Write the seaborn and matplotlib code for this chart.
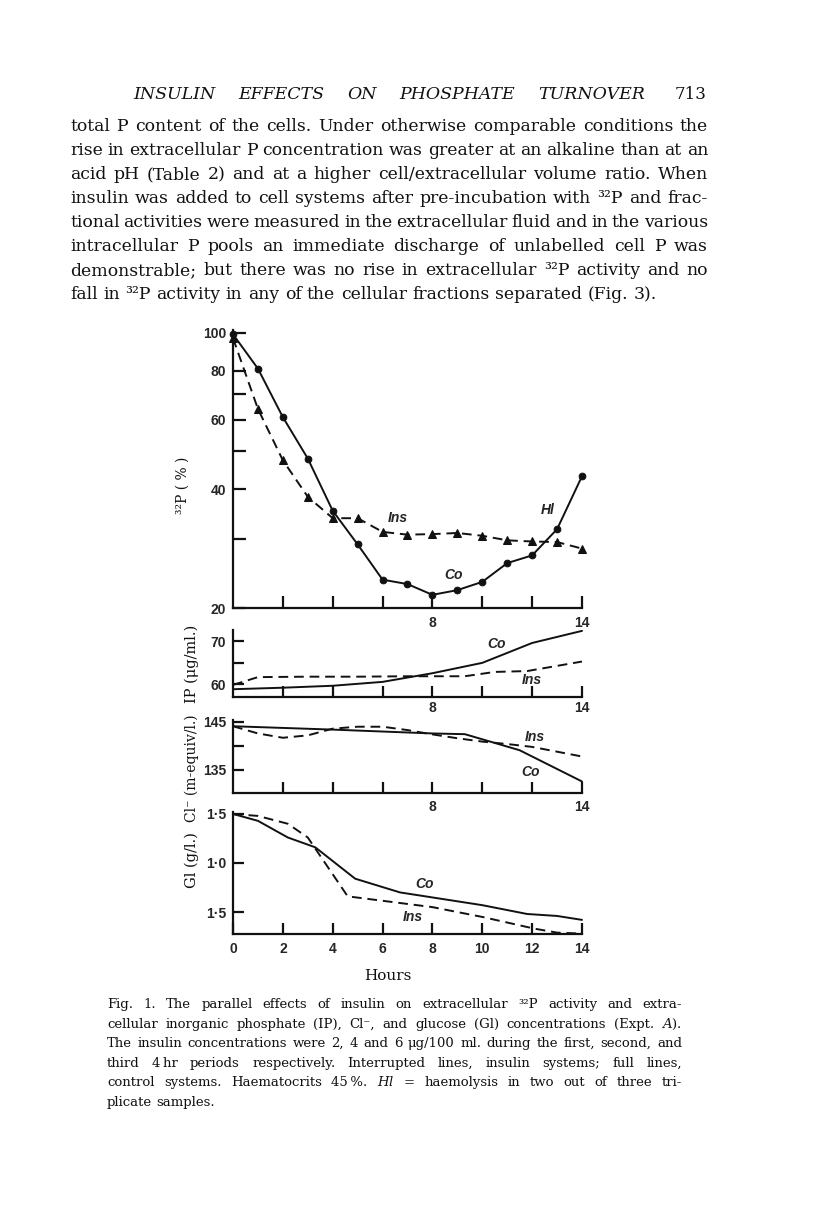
import matplotlib
matplotlib.use("Agg")
import matplotlib.pyplot as plt
import pandas as pd
import seaborn as sns

# ---- data ----
# 32P activity (%), log scale, every hour
p32_hours = [0, 1, 2, 3, 4, 5, 6, 7, 8, 9, 10, 11, 12, 13, 14]
p32_co = [99, 81, 61, 47.9, 35.3, 29.0, 23.6, 23.0, 21.6, 22.2, 23.3, 26.0, 27.2, 31.7, 43.2]
p32_ins = [96.8, 64.0, 47.4, 38.3, 33.8, 33.8, 31.2, 30.7, 30.8, 31.0, 30.5, 29.7, 29.5, 29.4, 28.3]

# inorganic phosphate (ug/ml)
ip_co_hours = [0, 2, 4, 6, 8, 10, 12, 14]
ip_co = [58.9, 59.25, 59.7, 60.6, 62.6, 65.0, 69.6, 72.4]
ip_ins_hours = [0, 1, 3, 5, 7, 9.3, 10.5, 11.8, 14]
ip_ins = [59.9, 61.7, 61.8, 61.8, 61.9, 61.9, 62.9, 63.1, 65.3]

# chloride (m-equiv/l)
cl_co_hours = [0, 4, 8, 9.3, 11.5, 14]
cl_co = [144.1, 143.4, 142.6, 142.45, 139.1, 132.6]
cl_ins_hours = [0, 1, 2, 3, 4, 5, 6, 7, 8, 9, 10, 11, 12, 13, 14]
cl_ins = [144.1, 142.6, 141.7, 142.2, 143.6, 144.0, 144.0, 143.3, 142.4, 141.6, 140.9,
          140.4, 139.8, 138.8, 137.8]

# glucose (g/l)
gl_co_hours = [0, 1, 2.2, 3.3, 4.9, 6.7, 10, 11.8, 13, 14]
gl_co = [1.5, 1.43, 1.26, 1.16, 0.84, 0.70, 0.57, 0.48, 0.46, 0.42]
gl_ins_hours = [0, 1, 2.2, 3.0, 4.6, 8.0, 10, 12.1, 13, 14]
gl_ins = [1.5, 1.48, 1.40, 1.26, 0.66, 0.55, 0.45, 0.33, 0.29, 0.28]

# ---- page text ----
header = "INSULIN EFFECTS ON PHOSPHATE TURNOVER"
page_no = "713"
body = [
    "total P content of the cells. Under otherwise comparable conditions the",
    "rise in extracellular P concentration was greater at an alkaline than at an",
    "acid pH (Table 2) and at a higher cell/extracellular volume ratio. When",
    "insulin was added to cell systems after pre-incubation with ³²P and frac-",
    "tional activities were measured in the extracellular fluid and in the various",
    "intracellular P pools an immediate discharge of unlabelled cell P was",
    "demonstrable; but there was no rise in extracellular ³²P activity and no",
    "fall in ³²P activity in any of the cellular fractions separated (Fig. 3).",
]
caption = [
    "Fig. 1. The parallel effects of insulin on extracellular ³²P activity and extra-",
    "cellular inorganic phosphate (IP), Cl⁻, and glucose (Gl) concentrations (Expt. $\\mathit{A}$).",
    "The insulin concentrations were 2, 4 and 6 μg/100 ml. during the first, second, and",
    "third 4\u2009hr periods respectively. Interrupted lines, insulin systems; full lines,",
    "control systems. Haematocrits 45\u2009%. $\\mathit{Hl}$ = haemolysis in two out of three tri-",
    "plicate samples.",
]

sns.set_style("ticks")
plt.rcParams['font.family'] = ['DejaVu Serif']
plt.rcParams['mathtext.fontset'] = 'dejavuserif'

W, H = 816, 1221
fig = plt.figure(figsize=(W / 100, H / 100), dpi=100)
fig.patch.set_facecolor('white')
renderer = fig.canvas.get_renderer()
INK = '#111111'


def fx(px):
    return px / W


def fy(py):
    return 1 - py / H


def put_line(text, x0, x1, baseline, size, justify=True, **kw):
    # place words one by one so the line fills x0..x1 like the printed page
    words = text.split(' ')
    arts = [fig.text(0, fy(baseline), w, fontsize=size, va='baseline', ha='left',
                     color=INK, **kw) for w in words]
    widths = [a.get_window_extent(renderer).width for a in arts]
    probe = fig.text(0, 0, 'x x', fontsize=size, **kw)
    probe2 = fig.text(0, 0, 'xx', fontsize=size, **kw)
    gap = probe.get_window_extent(renderer).width - probe2.get_window_extent(renderer).width
    probe.remove()
    probe2.remove()
    if justify and len(words) > 1:
        gap = (x1 - x0 - sum(widths)) / (len(words) - 1)
    x = x0
    for a, w in zip(arts, widths):
        a.set_x(fx(x))
        x += w + gap


# header and body text
put_line(header, 133, 645, 99, 12.5, style='italic')
fig.text(fx(707), fy(99), page_no, fontsize=12, ha='right', va='baseline', color=INK)
for i, line in enumerate(body):
    put_line(line, 70, 708, 131 + 24 * i, 12.4, justify=(i < len(body) - 1))
for i, line in enumerate(caption):
    put_line(line, 107, 682, 1008 + 19.6 * i, 9.5, justify=(i < len(caption) - 1))

# ---- chart panels ----
tick_font = dict(family='Liberation Sans', weight='bold', size=10)
lab_font = dict(family='Liberation Sans', weight='bold', style='italic', size=10)


def make_axes(top, bottom):
    ax = fig.add_axes([fx(233), fy(bottom), 349 / W, (bottom - top) / H])
    sns.despine(ax=ax)
    for s in ('left', 'bottom'):
        ax.spines[s].set_linewidth(1.6)
        ax.spines[s].set_color(INK)
    ax.set_facecolor('none')
    ax.set_xlim(0, 14)
    ax.tick_params(direction='in', length=8, width=1.6, color=INK, pad=5)
    return ax


def draw(ax, hx, hy, dashed, marker=None):
    df = pd.DataFrame({'hours': hx, 'value': hy})
    kw = dict(color=INK, linewidth=1.4, clip_on=False)
    if dashed:
        kw['linestyle'] = (0, (5, 3))
    if marker:
        kw.update(marker=marker, markersize=4.8 if marker == 'o' else 5.5,
                  markeredgecolor=INK, markerfacecolor=INK)
    sns.lineplot(data=df, x='hours', y='value', ax=ax, sort=False, **kw)
    ax.set_xlabel('')
    ax.set_ylabel('')


def set_ticks(ax, yt, ylab, all_x=False):
    ax.set_yticks(yt)
    ax.set_yticklabels(ylab, fontdict=tick_font)
    ax.yaxis.set_minor_locator(matplotlib.ticker.NullLocator())
    if all_x:
        ax.set_xticks(range(0, 15, 2))
        ax.set_xticklabels([str(h) for h in range(0, 15, 2)], fontdict=tick_font)
    else:
        ax.set_xticks(range(2, 15, 2))
        ax.set_xticklabels(['', '', '', '8', '', '', '14'], fontdict=tick_font)


# 32P panel
ax1 = make_axes(330, 608)
draw(ax1, p32_hours, p32_ins, True, '^')
draw(ax1, p32_hours, p32_co, False, 'o')
ax1.set_yscale('log')
ax1.set_ylim(20, 101.5)
set_ticks(ax1, [20, 30, 40, 50, 60, 70, 80, 100], ['20', '', '40', '', '60', '', '80', '100'])
ax1.tick_params(length=9, pad=5)
ax1.tick_params(axis='x', pad=6)
ax1.text(6.6, 33.8, 'Ins', ha='center', va='center', fontdict=lab_font)
ax1.text(12.63, 35.5, 'Hl', ha='center', va='center', fontdict=lab_font)
ax1.text(8.84, 24.2, 'Co', ha='center', va='center', fontdict=lab_font)
fig.text(fx(183), fy(485), '³²P ( % )', rotation=90, ha='center', va='center',
         fontsize=10, color=INK)

# IP panel
ax2 = make_axes(630, 697)
draw(ax2, ip_ins_hours, ip_ins, True)
draw(ax2, ip_co_hours, ip_co, False)
ax2.set_ylim(57.1, 72.6)
set_ticks(ax2, [60, 65, 70], ['60', '', '70'])
ax2.tick_params(axis='x', pad=3)
ax2.text(10.58, 69.25, 'Co', ha='center', va='center', fontdict=lab_font)
ax2.text(11.99, 60.98, 'Ins', ha='center', va='center', fontdict=lab_font)
fig.text(fx(192), fy(664), 'IP (μg/ml.)', rotation=90, ha='center', va='center',
         fontsize=10.5, color=INK)

# Cl panel
ax3 = make_axes(720, 793)
draw(ax3, cl_ins_hours, cl_ins, True)
draw(ax3, cl_co_hours, cl_co, False)
ax3.set_ylim(130.2, 145.4)
set_ticks(ax3, [135, 140, 145], ['135', '', '145'])
ax3.tick_params(axis='x', pad=5)
ax3.text(12.12, 141.9, 'Ins', ha='center', va='center', fontdict=lab_font)
ax3.text(11.92, 134.66, 'Co', ha='center', va='center', fontdict=lab_font)
fig.text(fx(192), fy(768), 'Cl⁻ (m-equiv/l.)', rotation=90, ha='center', va='center',
         fontsize=10, color=INK)

# glucose panel
ax4 = make_axes(812, 934)
draw(ax4, gl_ins_hours, gl_ins, True)
draw(ax4, gl_co_hours, gl_co, False)
ax4.set_ylim(0.276, 1.52)
set_ticks(ax4, [0.5, 1.0, 1.5], ['1·5', '1·0', '1·5'], all_x=True)
ax4.tick_params(axis='x', pad=6)
ax4.text(7.68, 0.786, 'Co', ha='center', va='center', fontdict=lab_font)
ax4.text(7.23, 0.45, 'Ins', ha='center', va='center', fontdict=lab_font)
fig.text(fx(192), fy(860), 'Gl (g/l.)', rotation=90, ha='center', va='center',
         fontsize=10.5, color=INK)

fig.text(fx(388), fy(976), 'Hours', ha='center', va='center', fontsize=11, color=INK)

fig.savefig('out.png', dpi=100, facecolor='white')
